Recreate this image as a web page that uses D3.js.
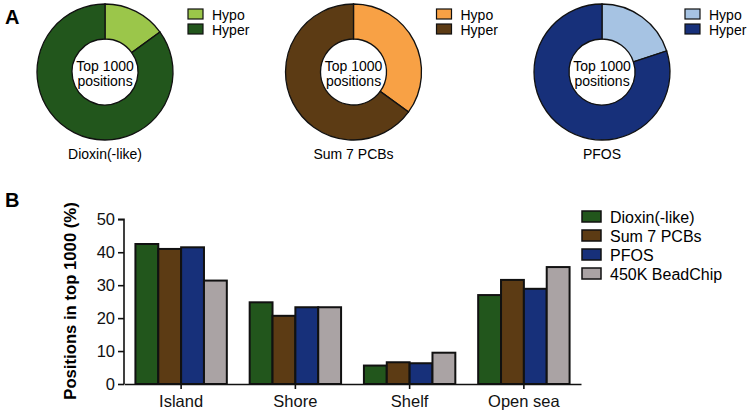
<!DOCTYPE html>
<html>
<head>
<meta charset="utf-8">
<script src="https://cdn.jsdelivr.net/npm/d3@7"></script>
<style>
  body { margin: 0; background: #fff; }
  svg { display: block; font-family: "Liberation Sans", Arial, sans-serif; }
</style>
</head>
<body>
<svg id="chart" width="748" height="415"></svg>
<script>
// --- Datos panel A (porcentaje hypo / hyper del top 1000) ---
const donutNames = ['Dioxin(-like)', 'Sum 7 PCBs', 'PFOS'];
const hypoPct = [15, 35, 20];
const hyperPct = [85, 65, 80];
const hypoColors = ['#9bc64a', '#f8a145', '#a6c3e3'];
const hyperColors = ['#22561c', '#5c3b14', '#17307a'];

// --- Datos panel B ---
const regions = ['Island', 'Shore', 'Shelf', 'Open sea'];
const seriesNames = ['Dioxin(-like)', 'Sum 7 PCBs', 'PFOS', '450K BeadChip'];
const seriesColors = ['#22561c', '#5c3b14', '#17307a', '#aaa3a4'];
const dioxinVals = [42.5, 24.8, 5.6, 27.0];
const pcbVals = [41.0, 20.7, 6.6, 31.6];
const pfosVals = [41.5, 23.3, 6.3, 28.9];
const beadVals = [31.4, 23.3, 9.5, 35.5];
const yTicks = [0, 10, 20, 30, 40, 50];

const svg = d3.select('#chart');

// --- Panel A: donuts ---
svg.append('text').attr('x', 5).attr('y', 24)
  .attr('font-size', 20).attr('font-weight', 'bold').text('A');

const donutX = d3.scalePoint().domain(donutNames).range([105, 602]);
const arc = d3.arc().innerRadius(33).outerRadius(68);
const pie = d3.pie().sort(null).value(d => d.v);

donutNames.forEach((name, i) => {
  const cx = donutX(name);
  const g = svg.append('g').attr('transform', `translate(${cx},72)`);
  const parts = [
    { k: 'Hypo', v: hypoPct[i], c: hypoColors[i] },
    { k: 'Hyper', v: hyperPct[i], c: hyperColors[i] }
  ];
  g.selectAll('path').data(pie(parts)).enter().append('path')
    .attr('d', arc)
    .attr('fill', d => d.data.c)
    .attr('stroke', '#111')
    .attr('stroke-width', 1.3);
  g.append('text').attr('text-anchor', 'middle').attr('y', -1)
    .attr('font-size', 14).text('Top 1000');
  g.append('text').attr('text-anchor', 'middle').attr('y', 14)
    .attr('font-size', 14).text('positions');
  g.append('text').attr('text-anchor', 'middle').attr('y', 87)
    .attr('font-size', 14).text(name);

  // leyenda
  const lg = svg.append('g').attr('transform', `translate(${cx + 83},9)`);
  parts.forEach((p, j) => {
    lg.append('rect').attr('x', 0).attr('y', j * 15)
      .attr('width', 15).attr('height', 10)
      .attr('fill', p.c).attr('stroke', '#111').attr('stroke-width', 1.2);
    lg.append('text').attr('x', 24).attr('y', j * 15 + 11)
      .attr('font-size', 14).text(p.k);
  });
});

// --- Panel B: barras agrupadas ---
svg.append('text').attr('x', 5).attr('y', 207)
  .attr('font-size', 20).attr('font-weight', 'bold').text('B');

const x0 = d3.scaleBand().domain(regions).range([124, 581]).paddingInner(0.2).paddingOuter(0.1);
const x1 = d3.scaleBand().domain(seriesNames).range([0, x0.bandwidth()]);
const y = d3.scaleLinear().domain([0, 50]).range([384, 219.3]);

const allVals = [dioxinVals, pcbVals, pfosVals, beadVals];
const barData = [];
regions.forEach((r, ri) => {
  seriesNames.forEach((s, si) => {
    barData.push({ region: r, series: s, value: allVals[si][ri], color: seriesColors[si] });
  });
});

svg.selectAll('.bar').data(barData).enter().append('rect')
  .attr('class', 'bar')
  .attr('x', d => x0(d.region) + x1(d.series))
  .attr('y', d => y(d.value))
  .attr('width', x1.bandwidth())
  .attr('height', d => y(0) - y(d.value))
  .attr('fill', d => d.color)
  .attr('stroke', '#111')
  .attr('stroke-width', 2);

const yAxis = svg.append('g').attr('transform', 'translate(124,0)')
  .call(d3.axisLeft(y).tickValues(yTicks).tickSize(6).tickPadding(3));
const xAxis = svg.append('g').attr('transform', 'translate(0,384)')
  .call(d3.axisBottom(x0).tickSize(5).tickSizeOuter(0).tickPadding(6));
[yAxis, xAxis].forEach(a => {
  a.select('.domain').attr('stroke', '#111').attr('stroke-width', 1.6);
  a.selectAll('.tick line').attr('stroke', '#111').attr('stroke-width', 1.6);
  a.selectAll('.tick text').attr('fill', '#111').attr('font-size', 16.5)
    .attr('font-family', '"Liberation Sans", Arial, sans-serif');
});
// el eje y empieza en el eje x sin sobresalir
yAxis.select('.domain').attr('d', `M-6,${y(50)}H0V${y(0)}`);

svg.append('text')
  .attr('transform', 'translate(76,301) rotate(-90)')
  .attr('text-anchor', 'middle')
  .attr('font-size', 16.7).attr('font-weight', 'bold')
  .text('Positions in top 1000 (%)');

// leyenda B
const legB = svg.append('g').attr('transform', 'translate(582,211)');
seriesNames.forEach((s, i) => {
  legB.append('rect').attr('x', 0).attr('y', i * 19)
    .attr('width', 19).attr('height', 11)
    .attr('fill', seriesColors[i]).attr('stroke', '#111').attr('stroke-width', 1.5);
  legB.append('text').attr('x', 28).attr('y', i * 19 + 12)
    .attr('font-size', 16).text(s);
});
</script>
</body>
</html>
